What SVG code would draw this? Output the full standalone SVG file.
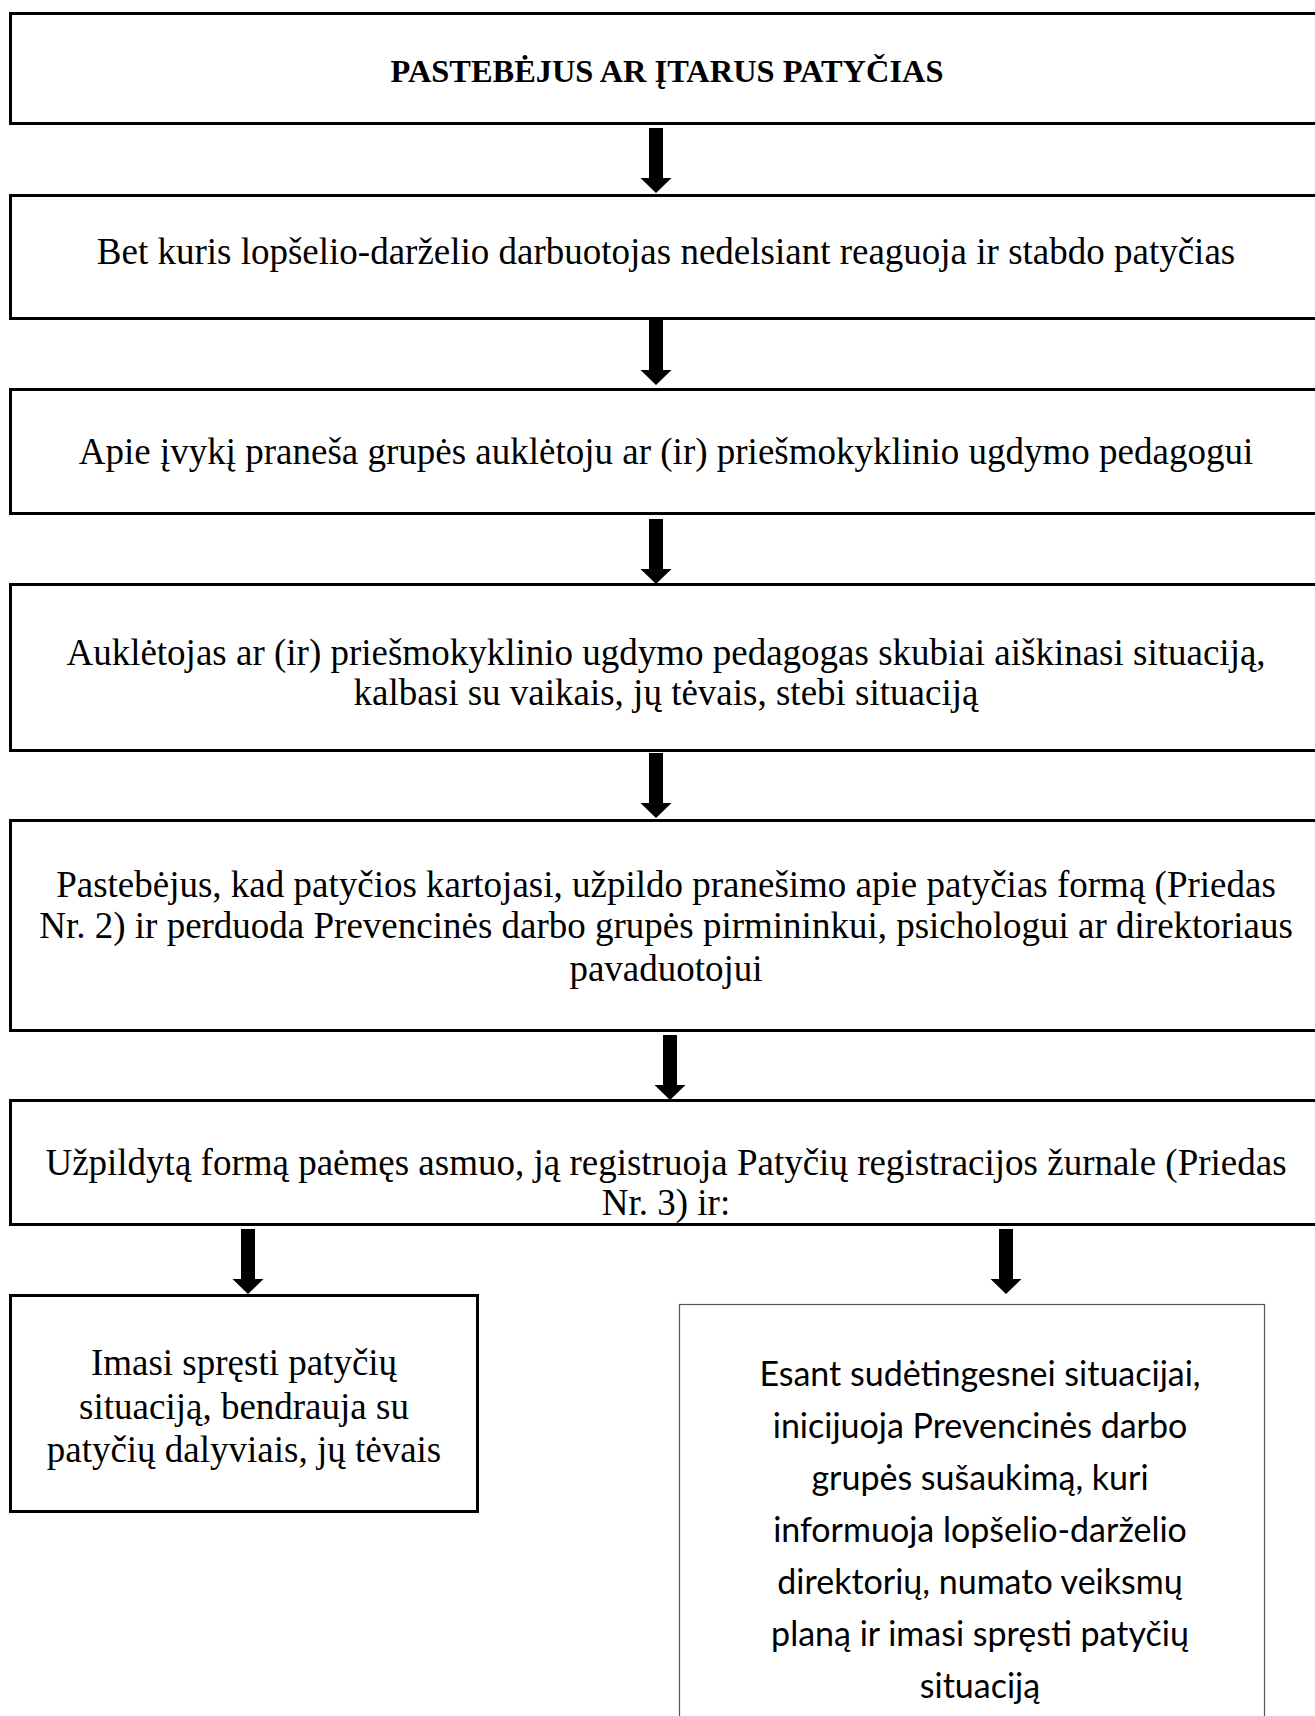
<svg xmlns="http://www.w3.org/2000/svg" xmlns:xlink="http://www.w3.org/1999/xlink" width="1315" height="1716" viewBox="0 0 1315 1716">
<style>
.box{fill:#fff;stroke:#000;stroke-width:3}
.thin{fill:#fff;stroke:#555;stroke-width:1.2}
.t{font-family:"Liberation Serif","Times New Roman",serif;font-size:37px;fill:#000;text-anchor:middle}
.title{font-family:"Liberation Serif","Times New Roman",serif;font-size:32.4px;font-weight:bold;fill:#000;text-anchor:middle}
.c{font-family:Lato,"Open Sans",sans-serif;font-size:34px;fill:#000;text-anchor:middle}
</style>
<defs>
<path id="arr" d="M-7,0 H7 V50 H15.5 L0,65 L-15.5,50 H-7 Z" fill="#000"/>
</defs>
<rect width="1315" height="1716" fill="#fff"/>
<g id="n1"><rect class="box" x="10.5" y="13.5" width="1330" height="110"/><text class="title" x="667" y="82">PASTEBĖJUS AR ĮTARUS PATYČIAS</text></g>
<g id="n2"><rect class="box" x="10.5" y="195.5" width="1330" height="123"/><text class="t" x="666" y="264">Bet kuris lopšelio-darželio darbuotojas nedelsiant reaguoja ir stabdo patyčias</text></g>
<g id="n3"><rect class="box" x="10.5" y="389.5" width="1330" height="124"/><text class="t" x="666" y="464">Apie įvykį praneša grupės auklėtoju ar (ir) priešmokyklinio ugdymo pedagogui</text></g>
<g id="n4"><rect class="box" x="10.5" y="584.5" width="1330" height="166"/><text class="t" x="666" y="665">Auklėtojas ar (ir) priešmokyklinio ugdymo pedagogas skubiai aiškinasi situaciją,</text><text class="t" x="666" y="705">kalbasi su vaikais, jų tėvais, stebi situaciją</text></g>
<g id="n5"><rect class="box" x="10.5" y="820.5" width="1330" height="210"/><text class="t" x="666" y="897">Pastebėjus, kad patyčios kartojasi, užpildo pranešimo apie patyčias formą (Priedas</text><text class="t" x="666" y="938">Nr. 2) ir perduoda Prevencinės darbo grupės pirmininkui, psichologui ar direktoriaus</text><text class="t" x="666" y="981">pavaduotojui</text></g>
<g id="n6"><rect class="box" x="10.5" y="1100.5" width="1330" height="124"/><text class="t" x="666" y="1175">Užpildytą formą paėmęs asmuo, ją registruoja Patyčių registracijos žurnale (Priedas</text><text class="t" x="666" y="1215">Nr. 3) ir:</text></g>
<g id="n7"><rect class="box" x="10.5" y="1295.5" width="467" height="216"/><text class="t" x="244" y="1375">Imasi spręsti patyčių</text><text class="t" x="244" y="1419">situaciją, bendrauja su</text><text class="t" x="244" y="1462">patyčių dalyviais, jų tėvais</text></g>
<g id="n8"><rect class="thin" x="679.5" y="1304.5" width="585" height="430"/>
<text class="c" x="980" y="1386">Esant sudėtingesnei situacijai,</text>
<text class="c" x="980" y="1438">inicijuoja Prevencinės darbo</text>
<text class="c" x="980" y="1490">grupės sušaukimą, kuri</text>
<text class="c" x="980" y="1542">informuoja lopšelio-darželio</text>
<text class="c" x="980" y="1594">direktorių, numato veiksmų</text>
<text class="c" x="980" y="1646">planą ir imasi spręsti patyčių</text>
<text class="c" x="980" y="1698">situaciją</text></g>
<g id="connectors">
<use xlink:href="#arr" x="656" y="128"/>
<use xlink:href="#arr" x="656" y="320"/>
<use xlink:href="#arr" x="656" y="519"/>
<use xlink:href="#arr" x="656" y="753"/>
<use xlink:href="#arr" x="670" y="1035"/>
<use xlink:href="#arr" x="248" y="1229"/>
<use xlink:href="#arr" x="1006" y="1229"/>
</g>
</svg>
